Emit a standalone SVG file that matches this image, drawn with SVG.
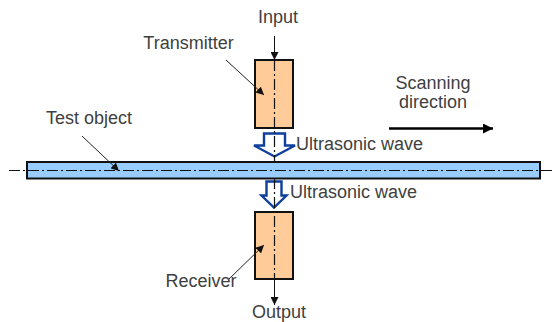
<svg xmlns="http://www.w3.org/2000/svg" width="553" height="322" viewBox="0 0 553 322">
<style>
text{font-family:"Liberation Sans",Arial,sans-serif;font-size:18px;fill:#404040}
.m{text-anchor:middle}
.box{fill:#ffcc99;stroke:#111;stroke-width:2}
.ca{stroke:#111;stroke-width:1.200;fill:none;stroke-dasharray:11 3 2 3}
.ld{stroke:#222;stroke-width:1;fill:none}
.ua{fill:#fff;stroke:#0f3f9c;stroke-width:2.400}
</style>
<defs>
<marker id="ah" markerUnits="userSpaceOnUse" markerWidth="9" markerHeight="8" refX="8" refY="4" orient="auto"><path d="M0 0L8 4L0 8z" fill="#111"/></marker>
<marker id="big" markerUnits="userSpaceOnUse" markerWidth="11" markerHeight="10" refX="10" refY="5" orient="auto"><path d="M0 0L10 5L0 10z" fill="#000"/></marker>
</defs>
<rect width="553" height="322" fill="#fff"/>
<g id="test-object"><rect x="27" y="162" width="513" height="16.500" fill="#99ccff" stroke="#111" stroke-width="2"/><text x="89" y="124" class="m">Test object</text></g>
<g id="transmitter"><rect class="box" x="255" y="60" width="38" height="68"/><text x="188.500" y="49" class="m">Transmitter</text></g>
<g id="receiver"><rect class="box" x="255" y="212" width="38" height="67"/><text x="201" y="287" class="m">Receiver</text></g>
<g id="wave-top"><path class="ua" d="M264 133.500H285V145.500H295L274.500 156.500L254 145.500H264z"/><text x="296" y="149.500">Ultrasonic wave</text></g>
<g id="wave-bottom"><path class="ua" d="M266.500 181.500H281.500V195.500H286.500L274 207.500L261.500 195.500H266.500z"/><text x="290" y="197.500">Ultrasonic wave</text></g>
<g id="input"><text x="278" y="22.500" class="m">Input</text></g>
<g id="output"><text x="279" y="318" class="m">Output</text></g>
<g id="scanning"><text x="433" y="89" class="m">Scanning</text><text x="433" y="108" class="m">direction</text></g>
<g id="connectors">
<path class="ca" d="M9 170.500H552"/>
<path class="ca" d="M274.500 60V162M274.500 178V279"/>
<path d="M274.500 36V60" stroke="#111" fill="none" marker-end="url(#ah)"/>
<path d="M274.500 279V305" stroke="#111" fill="none" marker-end="url(#ah)"/>
<path d="M389 128.500H493" stroke="#000" stroke-width="2.500" fill="none" marker-end="url(#big)"/>
<path class="ld" d="M226 60L264 95" marker-end="url(#ah)"/>
<path class="ld" d="M82 136L119 171" marker-end="url(#ah)"/>
<path class="ld" d="M229 279L264 245" marker-end="url(#ah)"/>
</g>
</svg>
